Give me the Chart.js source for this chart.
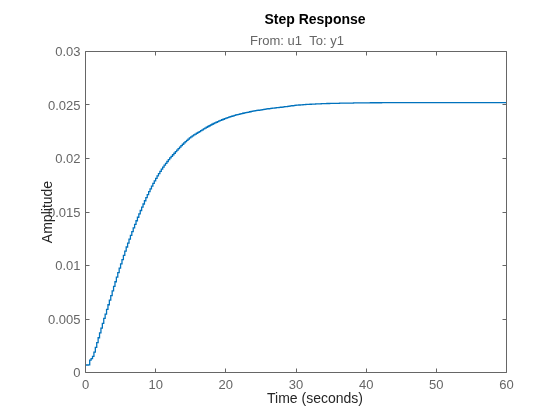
<!DOCTYPE html>
<html>
<head>
<meta charset="utf-8">
<script src="https://cdn.jsdelivr.net/npm/chart.js@4/dist/chart.umd.min.js"></script>
<style>
html,body{margin:0;padding:0;background:#ffffff;}
canvas{display:block;}
</style>
</head>
<body>
<canvas id="c" width="560" height="420"></canvas>
<script>
const sampleTime = 0.2; // seconds between samples
const amplitude = [
  0.00070, 0.00070, 0.00071, 0.00115, 0.00130, 0.00150, 0.00190, 0.00235, 0.00280, 0.00325,
  0.00370, 0.00415, 0.00460, 0.00505, 0.00545, 0.00590, 0.00633, 0.00676, 0.00719, 0.00762,
  0.00805, 0.00848, 0.00891, 0.00933, 0.00975, 0.01015, 0.01055, 0.01095, 0.01134, 0.01173,
  0.01210, 0.01246, 0.01282, 0.01317, 0.01351, 0.01385, 0.01418, 0.01451, 0.01483, 0.01514,
  0.01545, 0.01575, 0.01605, 0.01634, 0.01662, 0.01690, 0.01716, 0.01742, 0.01767, 0.01791,
  0.01815, 0.01837, 0.01859, 0.01880, 0.01900, 0.01920, 0.01938, 0.01955, 0.01972, 0.01989,
  0.02005, 0.02020, 0.02035, 0.02049, 0.02064, 0.02078, 0.02092, 0.02106, 0.02120, 0.02133,
  0.02146, 0.02158, 0.02170, 0.02181, 0.02192, 0.02202, 0.02211, 0.02220, 0.02228, 0.02236,
  0.02244, 0.02252, 0.02260, 0.02268, 0.02276, 0.02284, 0.02292, 0.02299, 0.02306, 0.02313,
  0.02320, 0.02327, 0.02333, 0.02339, 0.02345, 0.02351, 0.02356, 0.02362, 0.02367, 0.02372,
  0.02377, 0.02382, 0.02386, 0.02391, 0.02395, 0.02399, 0.02403, 0.02407, 0.02410, 0.02413,
  0.02417, 0.02420, 0.02423, 0.02426, 0.02429, 0.02432, 0.02434, 0.02437, 0.02440, 0.02442,
  0.02445, 0.02447, 0.02449, 0.02451, 0.02453, 0.02455, 0.02457, 0.02459, 0.02461, 0.02463,
  0.02465, 0.02466, 0.02468, 0.02470, 0.02471, 0.02473, 0.02475, 0.02476, 0.02478, 0.02479,
  0.02481, 0.02482, 0.02484, 0.02485, 0.02487, 0.02490, 0.02492, 0.02493, 0.02495, 0.02496,
  0.02498, 0.02499, 0.02500, 0.02501, 0.02502, 0.02503, 0.02504, 0.02505, 0.02506, 0.02506,
  0.02507, 0.02508, 0.02508, 0.02509, 0.02510, 0.02510, 0.02511, 0.02511, 0.02512, 0.02512,
  0.02513, 0.02513, 0.02514, 0.02514, 0.02515, 0.02515, 0.02516, 0.02516, 0.02516, 0.02516,
  0.02516, 0.02517, 0.02517, 0.02517, 0.02517, 0.02517, 0.02518, 0.02518, 0.02518, 0.02518,
  0.02518, 0.02519, 0.02519, 0.02519, 0.02519, 0.02519, 0.02520, 0.02520, 0.02520, 0.02520,
  0.02520, 0.02520, 0.02520, 0.02521, 0.02521, 0.02521, 0.02521, 0.02521, 0.02521, 0.02521,
  0.02521, 0.02522, 0.02522, 0.02522, 0.02522, 0.02522, 0.02522, 0.02522, 0.02522, 0.02522,
  0.02522, 0.02523, 0.02523, 0.02523, 0.02523, 0.02523, 0.02523, 0.02523, 0.02523, 0.02523,
  0.02523, 0.02523, 0.02523, 0.02523, 0.02523, 0.02523, 0.02523, 0.02523, 0.02523, 0.02523,
  0.02523, 0.02523, 0.02523, 0.02523, 0.02523, 0.02523, 0.02523, 0.02523, 0.02523, 0.02523,
  0.02523, 0.02523, 0.02523, 0.02523, 0.02523, 0.02523, 0.02523, 0.02523, 0.02523, 0.02523,
  0.02523, 0.02523, 0.02523, 0.02523, 0.02523, 0.02523, 0.02523, 0.02523, 0.02523, 0.02523,
  0.02523, 0.02523, 0.02523, 0.02523, 0.02523, 0.02523, 0.02523, 0.02523, 0.02523, 0.02523,
  0.02523, 0.02523, 0.02523, 0.02523, 0.02523, 0.02523, 0.02523, 0.02523, 0.02523, 0.02523,
  0.02523, 0.02523, 0.02523, 0.02523, 0.02523, 0.02523, 0.02523, 0.02523, 0.02523, 0.02523,
  0.02523
];
const xTickValues = [0, 10, 20, 30, 40, 50, 60];
const xTickLabels = ['0', '10', '20', '30', '40', '50', '60'];
const yTickValues = [0, 0.005, 0.01, 0.015, 0.02, 0.025, 0.03];
const yTickLabels = ['0', '0.005', '0.01', '0.015', '0.02', '0.025', '0.03'];
const titleText = 'Step Response';
const subtitleText = 'From: u1  To: y1';
const xAxisTitle = 'Time (seconds)';
const yAxisTitle = 'Amplitude';

// ---- build the library's dataset from the arrays ----
const times = amplitude.map((_, k) => Math.round(k * sampleTime * 10) / 10);
const points = times.map((t, k) => ({ x: t, y: amplitude[k] }));

const FONT = "'Liberation Sans', Arial, Helvetica, sans-serif";
const AXIS_COLOR = '#666666';
const TICK_COLOR = '#666666';
const LABEL_COLOR = '#262626';
const LINE_COLOR = '#0072BD';

function labelFor(values, labels, v) {
  let best = 0;
  for (let i = 1; i < values.length; i++) {
    if (Math.abs(values[i] - v) < Math.abs(values[best] - v)) best = i;
  }
  return labels[best];
}

const decor = {
  id: 'decor',
  afterDatasetsDraw(chart) {
    const { ctx, chartArea: a, scales } = chart;
    const xs = scales.x, ys = scales.y;
    const L = a.left, R = a.right, T = a.top, B = a.bottom;
    const tickLen = 4;
    ctx.save();
    ctx.strokeStyle = AXIS_COLOR;
    ctx.lineWidth = 1;
    ctx.beginPath();
    ctx.rect(L, T, R - L, B - T);
    ctx.stroke();
    ctx.beginPath();
    xTickValues.forEach(v => {
      const px = Math.floor(xs.getPixelForValue(v)) + 0.5;
      ctx.moveTo(px, B); ctx.lineTo(px, B - tickLen);
      ctx.moveTo(px, T); ctx.lineTo(px, T + tickLen);
    });
    yTickValues.forEach(v => {
      const py = Math.floor(ys.getPixelForValue(v)) + 0.5;
      ctx.moveTo(L, py); ctx.lineTo(L + tickLen, py);
      ctx.moveTo(R, py); ctx.lineTo(R - tickLen, py);
    });
    ctx.stroke();
    ctx.restore();
  },
  afterDraw(chart) {
    const { ctx } = chart;
    ctx.save();
    ctx.textAlign = 'center';
    ctx.textBaseline = 'middle';
    ctx.fillStyle = '#000000';
    ctx.font = 'bold 14px ' + FONT;
    ctx.fillText(titleText, 315, 20);
    ctx.fillStyle = TICK_COLOR;
    ctx.font = '13px ' + FONT;
    ctx.fillText(subtitleText, 297, 41);
    ctx.fillStyle = LABEL_COLOR;
    ctx.font = '14px ' + FONT;
    ctx.fillText(xAxisTitle, 315, 399);
    ctx.translate(48, 212);
    ctx.rotate(-Math.PI / 2);
    ctx.fillText(yAxisTitle, 0, 0);
    ctx.restore();
  }
};

new Chart(document.getElementById('c'), {
  type: 'line',
  data: {
    datasets: [{
      label: 'y1',
      data: points,
      borderColor: LINE_COLOR,
      borderWidth: 1.3,
      pointRadius: 0,
      stepped: 'before',
      fill: false
    }]
  },
  options: {
    responsive: false,
    animation: false,
    devicePixelRatio: 1,
    layout: { padding: { left: 0, right: 53.5, top: 51.5, bottom: 0 } },
    plugins: {
      legend: { display: false },
      tooltip: { enabled: false },
      title: { display: false }
    },
    scales: {
      x: {
        type: 'linear',
        min: 0,
        max: 60,
        afterFit(s) { s.height = 47.5; },
        grid: { display: false, drawTicks: false },
        border: { display: false },
        ticks: {
          stepSize: 10,
          autoSkip: false,
          maxRotation: 0,
          padding: 5,
          color: TICK_COLOR,
          font: { family: FONT, size: 13 },
          callback: (v) => labelFor(xTickValues, xTickLabels, v)
        }
      },
      y: {
        type: 'linear',
        min: 0,
        max: 0.03,
        afterFit(s) { s.width = 85.5; },
        grid: { display: false, drawTicks: false },
        border: { display: false },
        ticks: {
          stepSize: 0.005,
          autoSkip: false,
          padding: 5,
          labelOffset: 1,
          color: TICK_COLOR,
          font: { family: FONT, size: 13 },
          callback: (v) => labelFor(yTickValues, yTickLabels, v)
        }
      }
    }
  },
  plugins: [decor]
});
</script>
</body>
</html>
